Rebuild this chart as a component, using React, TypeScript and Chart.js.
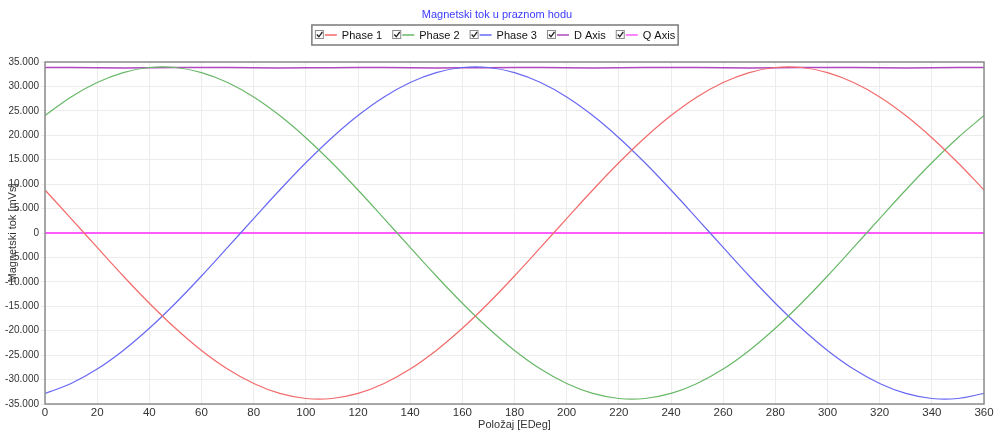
import { useEffect, useRef } from "react";
import { Chart, registerables } from "chart.js";

Chart.register(...registerables);

const TITLE = "Magnetski tok u praznom hodu";
const X_TITLE = "Položaj [EDeg]";
const Y_TITLE = "Magnetski tok [mVs]";

const seriesNames = ["Phase 1", "Phase 2", "Phase 3", "D Axis", "Q Axis"];
const seriesColors = ["#f26a6a", "#68b868", "#6868f4", "#b048c0", "#ff5cff"];

const angles = [0, 10, 20, 30, 40, 50, 60, 70, 80, 90, 100, 110, 120, 130, 140, 150, 160, 170, 180, 190, 200, 210, 220, 230, 240, 250, 260, 270, 280, 290, 300, 310, 320, 330, 340, 350, 360];

const phase1 = [8800, 2960, -2960, -8800, -14370, -19500, -24040, -27850, -30810, -32840, -33870, -33870, -32840, -30810, -27850, -24040, -19500, -14370, -8800, -2960, 2960, 8800, 14370, 19500, 24040, 27850, 30810, 32840, 33870, 33870, 32840, 30810, 27850, 24040, 19500, 14370, 8800];

const phase2 = [24040, 27850, 30810, 32840, 33870, 33870, 32840, 30810, 27850, 24040, 19500, 14370, 8800, 2960, -2960, -8800, -14370, -19500, -24040, -27850, -30810, -32840, -33870, -33870, -32840, -30810, -27850, -24040, -19500, -14370, -8800, -2960, 2960, 8800, 14370, 19500, 24040];

const phase3 = [-32840, -30810, -27850, -24040, -19500, -14370, -8800, -2960, 2960, 8800, 14370, 19500, 24040, 27850, 30810, 32840, 33870, 33870, 32840, 30810, 27850, 24040, 19500, 14370, 8800, 2960, -2960, -8800, -14370, -19500, -24040, -27850, -30810, -32840, -33870, -33870, -32840];

const dAxis = [33850, 33850, 33800, 33780, 33800, 33850, 33880, 33850, 33800, 33780, 33800, 33840, 33880, 33850, 33800, 33780, 33800, 33840, 33880, 33850, 33800, 33780, 33800, 33850, 33880, 33850, 33800, 33780, 33800, 33850, 33880, 33850, 33800, 33780, 33800, 33850, 33880];

const qAxis = [0, 0, 0, 0, 0, 0, 0, 0, 0, 0, 0, 0, 0, 0, 0, 0, 0, 0, 0, 0, 0, 0, 0, 0, 0, 0, 0, 0, 0, 0, 0, 0, 0, 0, 0, 0, 0];

const allSeries = [phase1, phase2, phase3, dAxis, qAxis];

const FONT = "'Liberation Sans', Arial, sans-serif";

function fmt(v: number): string {
  if (v === 0) return "0";
  const neg = v < 0;
  const s = Math.round(Math.abs(v)).toString();
  const withDots = s.replace(/\B(?=(\d{3})+(?!\d))/g, ".");
  return (neg ? "-" : "") + withDots;
}

const decorPlugin = {
  id: "decor",
  afterDraw(chart: any) {
    const ctx = chart.ctx as CanvasRenderingContext2D;
    const a = chart.chartArea;
    ctx.save();
    // plot border
    ctx.strokeStyle = "#8c8c8c";
    ctx.lineWidth = 1.5;
    ctx.strokeRect(a.left, a.top, a.right - a.left, a.bottom - a.top);

    // title
    ctx.font = `11px ${FONT}`;
    ctx.fillStyle = "#3b3bff";
    ctx.textAlign = "center";
    ctx.textBaseline = "middle";
    ctx.fillText(TITLE, 497, 15);

    // legend
    ctx.font = `11px ${FONT}`;
    const widths = seriesNames.map((n) => ctx.measureText(n).width);
    const itemW = widths.map((w) => 27 + w);
    const gap = 10;
    const total = itemW.reduce((s, w) => s + w, 0) + gap * (itemW.length - 1);
    const pad = 3;
    const cx = 495;
    let x = cx - total / 2;
    const boxTop = 25;
    const boxBottom = 45;
    const midY = 35;
    ctx.strokeStyle = "#7a7a7a";
    ctx.lineWidth = 1.5;
    ctx.strokeRect(x - pad, boxTop, total + pad * 2, boxBottom - boxTop);
    ctx.textAlign = "left";
    seriesNames.forEach((name, i) => {
      // checkbox
      ctx.strokeStyle = "#8a8a8a";
      ctx.lineWidth = 1;
      ctx.strokeRect(x + 0.5, midY - 4.5, 8, 8);
      ctx.strokeStyle = "#222";
      ctx.lineWidth = 1.3;
      ctx.beginPath();
      ctx.moveTo(x + 2, midY - 0.5);
      ctx.lineTo(x + 4, midY + 1.8);
      ctx.lineTo(x + 7.5, midY - 3);
      ctx.stroke();
      // line sample
      ctx.strokeStyle = seriesColors[i];
      ctx.lineWidth = 1.5;
      ctx.beginPath();
      ctx.moveTo(x + 10, midY);
      ctx.lineTo(x + 22, midY);
      ctx.stroke();
      // text
      ctx.fillStyle = "#111";
      ctx.fillText(name, x + 27, midY + 0.5);
      x += itemW[i] + gap;
    });

    // x title
    ctx.font = `11px ${FONT}`;
    ctx.fillStyle = "#333";
    ctx.textAlign = "center";
    ctx.fillText(X_TITLE, (a.left + a.right) / 2, 425);

    // y title
    ctx.translate(13, (a.top + a.bottom) / 2);
    ctx.rotate(-Math.PI / 2);
    ctx.fillText(Y_TITLE, 0, 0);
    ctx.restore();
  },
};

export default function App() {
  const ref = useRef<HTMLCanvasElement | null>(null);

  useEffect(() => {
    document.body.style.margin = "0";
    const canvas = ref.current;
    if (!canvas) return;
    const datasets = allSeries.map((vals, i) => ({
      label: seriesNames[i],
      data: vals.map((v, j) => ({ x: angles[j], y: v })),
      borderColor: seriesColors[i],
      backgroundColor: seriesColors[i],
      borderWidth: i === 4 ? 2 : i === 3 ? 1.5 : 1.2,
      pointRadius: 0,
      tension: i < 3 ? 0.4 : 0,
      fill: false,
    }));
    const chart = new Chart(canvas, {
      type: "line",
      data: { datasets },
      plugins: [decorPlugin],
      options: {
        animation: false,
        responsive: false,
        devicePixelRatio: 1,
        layout: { padding: { top: 62, right: 12, left: 0, bottom: 0 } },
        plugins: {
          legend: { display: false },
          title: { display: false },
          tooltip: { enabled: false },
        },
        scales: {
          x: {
            type: "linear",
            min: 0,
            max: 360,
            afterFit: (s: any) => {
              s.height = 28;
            },
            ticks: {
              stepSize: 20,
              padding: 2,
              color: "#333",
              font: { family: FONT, size: 11.5 },
              maxRotation: 0,
              autoSkip: false,
            },
            grid: { color: "#ececec", drawTicks: false },
            border: { display: false },
          },
          y: {
            type: "linear",
            min: -35000,
            max: 35000,
            afterFit: (s: any) => {
              s.width = 45;
            },
            ticks: {
              stepSize: 5000,
              padding: 2,
              color: "#333",
              font: { family: FONT, size: 10 },
              callback: (v: any) => fmt(Number(v)),
              autoSkip: false,
            },
            grid: { color: "#ececec", drawTicks: true, tickLength: 4 },
            border: { display: false },
          },
        },
      },
    });
    return () => chart.destroy();
  }, []);

  return (
    <div style={{ width: 996, height: 432, background: "#fff" }}>
      <canvas ref={ref} width={996} height={432} style={{ display: "block" }} />
    </div>
  );
}
